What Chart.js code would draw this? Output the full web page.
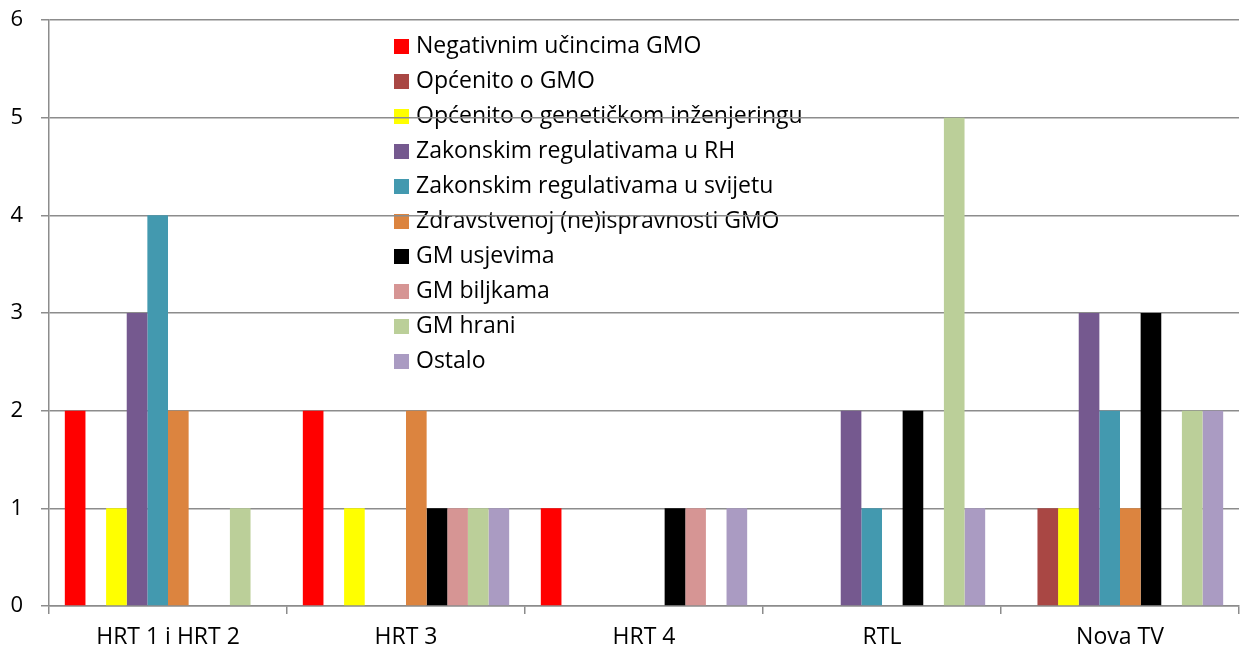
<!DOCTYPE html>
<html>
<head>
<meta charset="utf-8">
<script src="https://cdn.jsdelivr.net/npm/chart.js"></script>
<style>
  html, body { margin: 0; padding: 0; background: #fff; }
  #wrap { width: 1242px; height: 655px; }
</style>
</head>
<body>
<div id="wrap"><canvas id="myChart"></canvas></div>
<script>
var categories = ["HRT 1 i HRT 2", "HRT 3", "HRT 4", "RTL", "Nova TV"];
var seriesNames = [
  "Negativnim učincima GMO",
  "Općenito o GMO",
  "Općenito o genetičkom inženjeringu",
  "Zakonskim regulativama u RH",
  "Zakonskim regulativama u svijetu",
  "Zdravstvenoj (ne)ispravnosti GMO",
  "GM usjevima",
  "GM biljkama",
  "GM hrani",
  "Ostalo"
];
var negativni   = [2, 2, 1, 0, 0];
var opcenitoGmo = [0, 0, 0, 0, 1];
var genInz      = [1, 1, 0, 0, 1];
var zakonRH     = [3, 0, 0, 2, 3];
var zakonSvijet = [4, 0, 0, 1, 2];
var zdravstvo   = [2, 2, 0, 0, 1];
var usjevi      = [0, 1, 1, 2, 3];
var biljke      = [0, 1, 1, 0, 0];
var hrana       = [1, 1, 0, 5, 2];
var ostalo      = [0, 1, 1, 1, 2];
var yTicks = [0, 1, 2, 3, 4, 5, 6];

var barColors = [
  "#ff0000", "#a94744", "#ffff00", "#75598f", "#4399af",
  "#dc843f", "#000000", "#d69594", "#bbcf99", "#aa9bc2"
];
var allValues = [negativni, opcenitoGmo, genInz, zakonRH, zakonSvijet,
                 zdravstvo, usjevi, biljke, hrana, ostalo];

var datasets = allValues.map(function (vals, i) {
  return {
    label: seriesNames[i],
    data: vals,
    backgroundColor: barColors[i],
    borderWidth: 0,
    categoryPercentage: 0.867,
    barPercentage: 1.0
  };
});

var FONT = "'Open Sans', sans-serif";

// legend drawn inside the plot area, under the grid lines
var insideLegend = {
  id: "insideLegend",
  beforeDraw: function (chart) {
    var ctx = chart.ctx;
    ctx.save();
    ctx.font = "23px " + FONT;
    ctx.textBaseline = "middle";
    ctx.textAlign = "left";
    chart.data.datasets.forEach(function (ds, i) {
      var y = 46 + i * 35;
      ctx.fillStyle = ds.backgroundColor;
      ctx.fillRect(394, y - 7, 15, 15);
      ctx.fillStyle = "#000";
      ctx.fillText(ds.label, 416, y);
    });
    ctx.restore();
  }
};

new Chart("myChart", {
  type: "bar",
  data: { labels: categories, datasets: datasets },
  plugins: [insideLegend],
  options: {
    responsive: true,
    maintainAspectRatio: false,
    animation: false,
    layout: { padding: { top: 20, right: 3, left: 0, bottom: 0 } },
    plugins: {
      legend: { display: false },
      tooltip: { enabled: false }
    },
    scales: {
      x: {
        offset: true,
        afterFit: function (axis) { axis.height = 49; },
        grid: {
          offset: true,
          drawOnChartArea: false,
          color: "#8c8c8c",
          lineWidth: 1.5,
          tickLength: 8
        },
        border: { color: "#8c8c8c", width: 1.5 },
        ticks: { color: "#000", font: { size: 23, family: FONT }, padding: 10 }
      },
      y: {
        min: 0,
        max: 6,
        afterBuildTicks: function (axis) {
          axis.ticks = yTicks.map(function (v) { return { value: v }; });
        },
        afterFit: function (axis) {
          axis.width = 49;
          axis.paddingTop = 0;
          axis.paddingBottom = 0;
        },
        grid: { color: "#8c8c8c", lineWidth: 1.5, tickLength: 8 },
        border: { color: "#8c8c8c", width: 1.5 },
        ticks: { color: "#000", font: { size: 22, family: FONT }, padding: 18 }
      }
    }
  }
});
</script>
</body>
</html>
